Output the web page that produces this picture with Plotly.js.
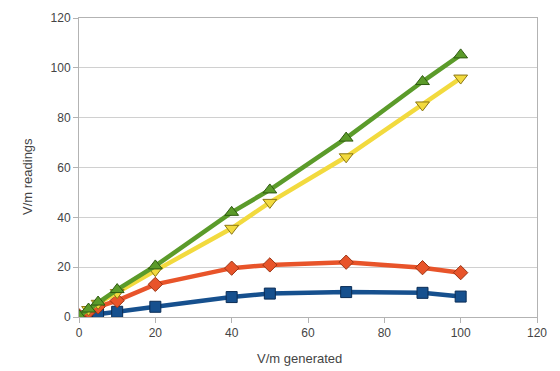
<!DOCTYPE html>
<html>
<head>
<meta charset="utf-8">
<script src="https://cdn.plot.ly/plotly-3.0.1.min.js"></script>
<style>html,body{margin:0;padding:0;background:#fff;}#chart{width:560px;height:371px;}</style>
</head>
<body>
<div id="chart"></div>
<script>
var generated = [0, 2.5, 5, 10, 20, 40, 50, 70, 90, 100];
var seriesBlue = [0.2, 0.6, 1.2, 2.1, 4.1, 8.0, 9.4, 10.0, 9.7, 8.2];
var seriesRed = [0.5, 2.0, 4.1, 6.6, 13.1, 19.6, 20.9, 22.0, 19.8, 17.8];
var seriesYellow = [0.5, 3.0, 5.5, 9.8, 18.6, 35.6, 46.0, 64.3, 85.1, 95.9];
var seriesGreen = [0.5, 3.2, 6.0, 11.0, 20.5, 42.0, 51.0, 71.8, 94.5, 105.2];
var xTicks = [0, 20, 40, 60, 80, 100, 120];
var yTicks = [0, 20, 40, 60, 80, 100, 120];
var xTitle = 'V/m generated';
var yTitle = 'V/m readings';

function tr(y, color, edge, symbol, size) {
  return {
    x: generated, y: y, type: 'scatter', mode: 'lines+markers',
    line: {color: color, width: 4.5},
    marker: {symbol: symbol, size: size, color: color, line: {color: edge, width: 1}},
    hoverinfo: 'skip'
  };
}
var data = [
  tr(seriesBlue, '#16508e', '#0a2c55', 'square', 11),
  tr(seriesRed, '#e8542a', '#9a3414', 'diamond', 11),
  tr(seriesYellow, '#f2da3e', '#8a7614', 'triangle-down', 12),
  tr(seriesGreen, '#5b9b2a', '#2f5a12', 'triangle-up', 12)
];
var ff = '"Liberation Sans", Arial, sans-serif';
var layout = {
  width: 560, height: 371,
  margin: {l: 79, r: 23, t: 18, b: 54},
  paper_bgcolor: '#fff', plot_bgcolor: '#fff',
  showlegend: false,
  font: {family: ff, color: '#444', size: 12},
  xaxis: {
    range: [0, 120], tickvals: xTicks, ticktext: xTicks.map(String),
    showgrid: false, zeroline: false,
    showline: true, linecolor: '#b3b3b3', linewidth: 1, mirror: true,
    ticks: 'outside', ticklen: 5, tickcolor: '#b3b3b3',
    tickfont: {family: ff, color: '#444', size: 12}
  },
  yaxis: {
    range: [0, 120], tickvals: yTicks, ticktext: yTicks.map(String),
    showgrid: true, gridcolor: '#d0d0d0', gridwidth: 1, zeroline: false,
    showline: true, linecolor: '#b3b3b3', linewidth: 1, mirror: true,
    ticks: 'outside', ticklen: 5, tickcolor: '#b3b3b3',
    tickfont: {family: ff, color: '#444', size: 12}
  },
  annotations: [
    {text: xTitle, xref: 'paper', yref: 'paper', x: (299 - 79) / 458, y: -(358 - 317) / 299,
     xanchor: 'center', yanchor: 'middle', showarrow: false,
     font: {family: ff, color: '#444', size: 13}},
    {text: yTitle, xref: 'paper', yref: 'paper', x: (27 - 79) / 458, y: (317 - 177) / 299,
     xanchor: 'center', yanchor: 'middle', textangle: -90, showarrow: false,
     font: {family: ff, color: '#444', size: 13}}
  ]
};
Plotly.newPlot('chart', data, layout, {staticPlot: true, displayModeBar: false});
</script>
</body>
</html>
